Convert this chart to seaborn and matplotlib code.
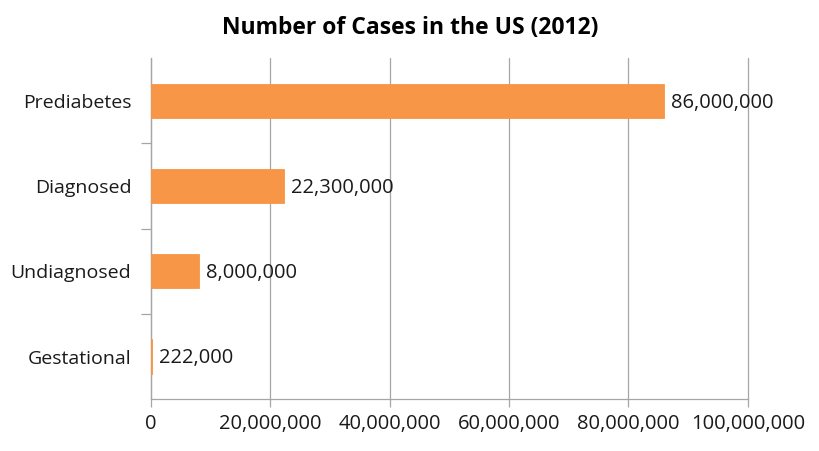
import matplotlib
matplotlib.use("Agg")
import matplotlib.pyplot as plt
import seaborn as sns
import pandas as pd
from matplotlib.ticker import FuncFormatter, FixedLocator

categories = ["Prediabetes", "Diagnosed", "Undiagnosed", "Gestational"]
cases = [86000000, 22300000, 8000000, 222000]
value_labels = ["86,000,000", "22,300,000", "8,000,000", "222,000"]
title = "Number of Cases in the US (2012)"

sns.set_theme(style="white")
plt.rcParams['font.family'] = ['Open Sans', 'DejaVu Sans']

df = pd.DataFrame({"category": categories, "cases": cases})

fig = plt.figure(figsize=(8.2, 4.51), dpi=100)
ax = fig.add_axes([0.184, 0.115, 0.728, 0.756])
sns.barplot(data=df, x="cases", y="category", orient="h", color="#F79646",
            saturation=1, width=0.4, ax=ax, zorder=3,
            linewidth=0.6, edgecolor="#F79646")

ax.set_xlim(0, 100000000)
ax.set_ylim(3.5, -0.5)
ax.set_xticks([0, 20000000, 40000000, 60000000, 80000000, 100000000])
ax.xaxis.set_major_formatter(FuncFormatter(lambda v, p: f"{int(v):,}"))
ax.grid(axis="x", color="#A6A6A6", linewidth=0.9)
for gl in ax.get_xgridlines():
    gl.set_clip_on(False)
ax.set_axisbelow(True)
ax.set_xlabel("")
ax.set_ylabel("")

for s in ["top", "right"]:
    ax.spines[s].set_visible(False)
for s in ["left", "bottom"]:
    ax.spines[s].set_color("#A6A6A6")
    ax.spines[s].set_linewidth(0.9)
    ax.spines[s].set_zorder(1)

ax.tick_params(axis="x", which="major", length=6, width=0.9, color="#A6A6A6",
               direction="out", bottom=True, labelsize=14.5, labelcolor="#1a1a1a", pad=5)
ax.tick_params(axis="y", which="major", length=0, labelsize=14, labelcolor="#1a1a1a", pad=14)
ax.yaxis.set_minor_locator(FixedLocator([0.5, 1.5, 2.5]))
ax.tick_params(axis="y", which="minor", length=7, width=0.9, color="#A6A6A6",
               direction="out", left=True)

for i, (v, lab) in enumerate(zip(cases, value_labels)):
    ax.text(v + 1200000, i + 0.02, lab, va="center", ha="left", fontsize=14.5, color="#1a1a1a")

fig.suptitle(title, x=0.5, y=0.965, fontsize=16.5, fontweight="bold", color="black")

fig.savefig("out.png", dpi=100, facecolor="white")
